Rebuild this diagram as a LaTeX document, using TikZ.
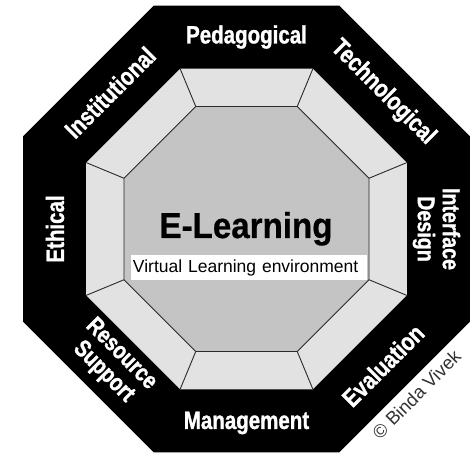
\documentclass[tikz,border=0pt]{standalone}
\usepackage{fontspec}
\setmainfont{Liberation Sans}
\newfontfamily\condfont[FakeStretch=0.82,FakeBold=1.2]{Liberation Sans}
\newfontfamily\boldsemi[FakeStretch=0.92,FakeBold=0.6]{Liberation Sans}
\definecolor{ringgray}{HTML}{E2E2E2}
\definecolor{coregray}{HTML}{C4C4C4}
\definecolor{linegray}{HTML}{2A2A2A}
\definecolor{copygray}{HTML}{333333}
\begin{document}
\begin{tikzpicture}[x=1pt,y=1pt,
  lab/.style={text=white, font=\condfont\bfseries\fontsize{25}{26}\selectfont, inner sep=0pt},
  lab2/.style={text=white, font=\condfont\bfseries\fontsize{24}{25}\selectfont, inner sep=0pt, align=center},
  divider/.style={draw=linegray, line width=0.9pt}]
\useasboundingbox (-246.5,-225) rectangle (226.5,229);
\foreach \k in {0,...,7} {
  \coordinate (o\k) at (22.5+45*\k:241.9);
  \coordinate (m\k) at (22.5+45*\k:173.5);
  \coordinate (i\k) at (22.5+45*\k:132.6);
}
\fill[black] (o0) -- (o1) -- (o2) -- (o3) -- (o4) -- (o5) -- (o6) -- (o7) -- cycle;
\fill[ringgray] (m0) -- (m1) -- (m2) -- (m3) -- (m4) -- (m5) -- (m6) -- (m7) -- cycle;
\foreach \k in {0,...,7} \draw[divider] (i\k) -- (m\k);
\filldraw[fill=coregray, divider] (i0) -- (i1) -- (i2) -- (i3) -- (i4) -- (i5) -- (i6) -- (i7) -- cycle;
% labels
\node[lab] (ped) at (90:192) {Pedagogical};
\node[lab, rotate=-45] (tech) at (45:193) {Technological};
\node[lab2, rotate=-90] (iface) at (0:190) {Interface\\Design};
\node[lab, rotate=45] (eval) at (-45:193) {Evaluation};
\node[lab] (mgmt) at (-90:194) {Management};
\node[lab2, rotate=-45] (res) at (-135:190) {Resource\\Support};
\node[lab, rotate=90] (eth) at (180:191.5) {Ethical};
\node[lab, rotate=45] (inst) at (135:193) {Institutional};
% centre
\node[font=\boldsemi\bfseries\fontsize{36}{38}\selectfont, anchor=base, inner sep=0pt] (elearn) at (-0.5,-9) {E-Learning};
\node[fill=white, text width=232pt, inner xsep=2pt, inner ysep=0pt, minimum height=25pt, align=left,
      font=\fontsize{17.5}{18}\selectfont] (vle) at (2.5,-38.5) {Virtual Learning environment};
\node[text=copygray, rotate=45, font=\fontsize{18.5}{19}\selectfont, inner sep=0pt] (copy) at (170,-165.5) {© Binda Vivek};
\end{tikzpicture}
\end{document}
